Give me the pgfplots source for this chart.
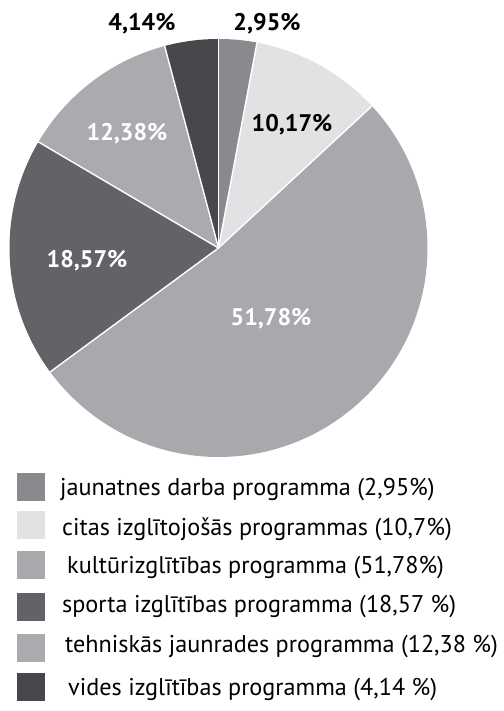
\documentclass[border=0pt]{standalone}
\usepackage{pgfplots}
\usepackage{pgfplotstable}
\pgfplotsset{compat=1.18}
\usepackage{fontspec}
\setmainfont{PT Sans}

\definecolor{c1}{HTML}{898A8D}
\definecolor{c2}{HTML}{E1E2E4}
\definecolor{c3}{HTML}{A8A9AC}
\definecolor{c4}{HTML}{626366}
\definecolor{c5}{HTML}{AAABAE}
\definecolor{c6}{HTML}{47484B}

\pgfplotstableread{
value color
2.95 c1
10.17 c2
51.78 c3
18.57 c4
12.38 c5
4.14 c6
}\piedata

\begin{document}
\begin{tikzpicture}
\begin{axis}[width=503pt,height=711pt,scale only axis,
  xmin=0,xmax=503,ymin=-711,ymax=0,hide axis,clip=false]
\pgfplotsextra{
  \pgfplotstablegetrowsof{\piedata}
  \pgfmathtruncatemacro\N{\pgfplotsretval-1}
  \gdef\cum{0}
  \foreach \i in {0,...,\N}{
    \pgfplotstablegetelem{\i}{value}\of\piedata
    \edef\val{\pgfplotsretval}
    \pgfplotstablegetelem{\i}{color}\of\piedata
    \edef\col{\pgfplotsretval}
    \pgfmathsetmacro\sa{90-3.6*\cum}
    \pgfmathsetmacro\ea{90-3.6*(\cum+\val)}
    \fill[fill=\col] (axis cs:218.5,-248) -- ++(\sa:209pt) arc[start angle=\sa, end angle=\ea, radius=209pt] -- cycle;
    \pgfmathsetmacro\nc{\cum+\val}
    \xdef\cum{\nc}
  }
  \gdef\cum{0}
  \foreach \i in {0,...,\N}{
    \pgfplotstablegetelem{\i}{value}\of\piedata
    \edef\val{\pgfplotsretval}
    \pgfmathsetmacro\sa{90-3.6*\cum}
    \draw[white,line width=1.4pt] (axis cs:218.5,-248) -- ++(\sa:209pt);
    \pgfmathsetmacro\nc{\cum+\val}
    \xdef\cum{\nc}
  }
}
\coordinate (BL) at (axis cs:0,-711);
\coordinate (TR) at (axis cs:503,0);
\begin{scope}[font=\fontsize{24}{28}\selectfont\bfseries]
\node[black] at (axis cs:267,-24) {2,95\%};
\node[black] at (axis cs:292,-125) {10,17\%};
\node[white] at (axis cs:271,-319) {51,78\%};
\node[white] at (axis cs:87,-261) {18,57\%};
\node[white] at (axis cs:127,-134) {12,38\%};
\node[black] at (axis cs:142,-24) {4,14\%};
\end{scope}
\begin{scope}[font=\fontsize{24.2}{28}\selectfont]
\fill[c1] (axis cs:17,-473) rectangle (axis cs:45,-501);
\fill[c2] (axis cs:17,-511) rectangle (axis cs:45,-539);
\fill[c3] (axis cs:17,-551) rectangle (axis cs:45,-579);
\fill[c4] (axis cs:17,-593) rectangle (axis cs:45,-621);
\fill[c5] (axis cs:17,-634) rectangle (axis cs:45,-662);
\fill[c6] (axis cs:17,-673) rectangle (axis cs:45,-701);
\node[anchor=west,inner sep=0pt] at (axis cs:60,-490) {jaunatnes darba programma (2,95\%)};
\node[anchor=west,inner sep=0pt] at (axis cs:62,-529) {citas izglītojošās programmas (10,7\%)};
\node[anchor=west,inner sep=0pt] at (axis cs:67,-568) {kultūrizglītības programma (51,78\%)};
\node[anchor=west,inner sep=0pt] at (axis cs:62,-607) {sporta izglītības programma (18,57 \%)};
\node[anchor=west,inner sep=0pt] at (axis cs:65,-647) {tehniskās jaunrades programma (12,38 \%)};
\node[anchor=west,inner sep=0pt] at (axis cs:68,-690) {vides izglītības programma (4,14 \%)};
\end{scope}
\end{axis}
\pgfresetboundingbox
\path (BL) rectangle (TR);
\end{tikzpicture}
\end{document}
